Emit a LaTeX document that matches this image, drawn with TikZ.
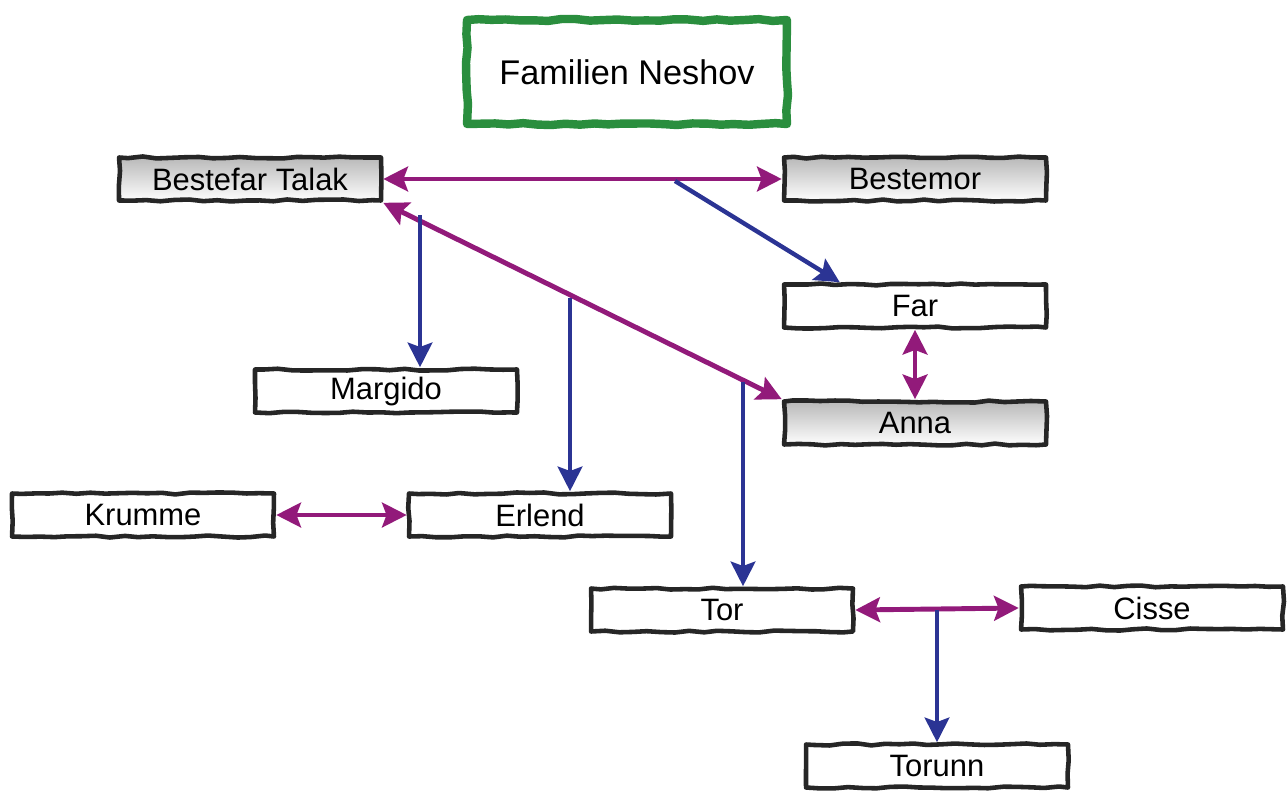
\documentclass[tikz,border=0pt]{standalone}
\usepackage{fontspec}
\setmainfont{Liberation Sans}
\usetikzlibrary{arrows.meta,decorations.pathmorphing}
\definecolor{marriage}{RGB}{146,26,122}
\definecolor{child}{RGB}{43,52,148}
\definecolor{titlegreen}{RGB}{42,142,62}
\begin{document}
\begin{tikzpicture}[x = 0.02cm, y = -0.02cm,
        rough/.style = {decorate, decoration = {random steps, segment length = 8pt, amplitude = 0.6pt}, line join = round},
        person/.style = {rough, draw = black!85, line width = 2.6pt, fill = white, minimum width = 5.24cm,
            minimum height = 0.86cm, inner sep = 0pt, font = \fontsize{17.6}{20}\selectfont},
        elder/.style = {person, top color = black!28, bottom color = white},
        married/.style = {marriage, line width = 2.8pt,
            {Stealth[length = 14pt, width = 14pt, inset = 2.5pt]}-{Stealth[length = 14pt, width = 14pt, inset = 2.5pt]}},
        descends/.style = {child, line width = 2.5pt, -{Stealth[length = 14pt, width = 14pt, inset = 2.5pt]}}]
    \useasboundingbox (0, 0) rectangle (1287, 791);
    \node[rough, draw = titlegreen, line width = 4.8pt, fill = white, minimum width = 6.4cm, minimum height = 2.08cm,
        font = \fontsize{19.5}{22}\selectfont] (title) at (627, 72) {Familien Neshov};
    \node[elder] (bt) at (250, 179) {Bestefar Talak};
    \node[elder] (bm) at (915, 179) {Bestemor};
    \node[person] (far) at (915, 306) {Far};
    \node[elder] (an) at (915, 423) {Anna};
    \node[person] (mar) at (386, 391) {Margido};
    \node[person] (kr) at (143, 515) {Krumme};
    \node[person] (er) at (540, 515) {Erlend};
    \node[person] (tor) at (722, 610) {Tor};
    \node[person] (ci) at (1152, 608) {Cisse};
    \node[person] (tn) at (937, 766) {Torunn};
    % parents
    \draw[married] (bt.east) -- (bm.west);
    \draw[married] (bt.south east) -- (an.north west);
    \draw[married] (far.south) -- (an.north);
    \draw[married] (kr.east) -- (er.west);
    \draw[married] (tor.east) -- (ci.west);
    % children
    \coordinate (m1) at (675, 181);
    \coordinate (m2) at (420, 215);
    \coordinate (m3) at (570, 298);
    \coordinate (m4) at (743, 382);
    \coordinate (m5) at (937, 610);
    \draw[descends] (m1) -- ([xshift = 1.16cm]far.north west);
    \draw[descends] (m2) -- (m2 |- mar.north);
    \draw[descends] (m3) -- (m3 |- er.north);
    \draw[descends] (m4) -- (m4 |- tor.north);
    \draw[descends] (m5) -- (tn.north);
\end{tikzpicture}
\end{document}
